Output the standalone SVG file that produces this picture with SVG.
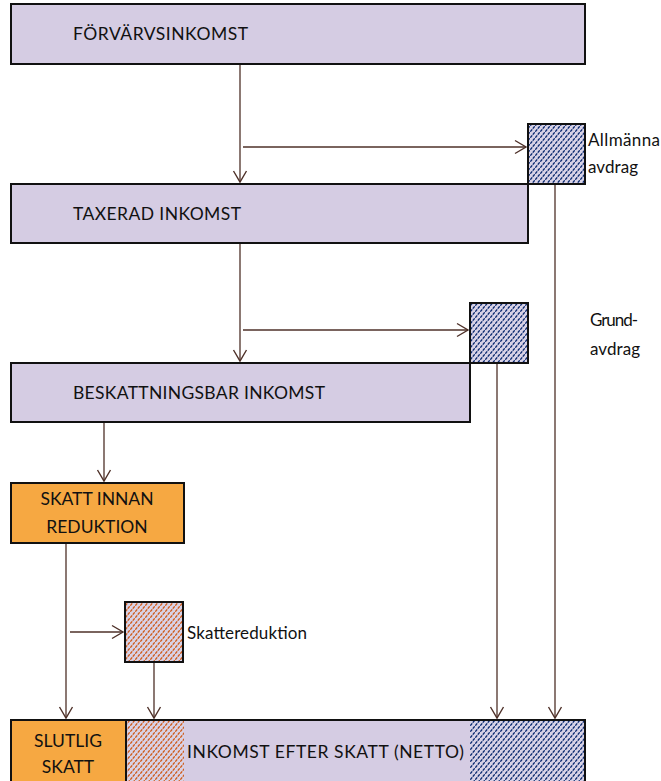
<svg xmlns="http://www.w3.org/2000/svg" width="661" height="781" viewBox="0 0 661 781">
<defs>
<pattern id="hb" width="5" height="6" patternUnits="userSpaceOnUse">
<rect width="5" height="6" fill="#d8d2e6"/>
<path d="M0.3,5.64 L2.2,3.36 M2.8,2.64 L4.7,0.36" stroke="#08286e" stroke-width="1.4" fill="none"/>
</pattern>
<pattern id="ho" width="5" height="6" patternUnits="userSpaceOnUse">
<rect width="5" height="6" fill="#d8d2e6"/>
<path d="M0.3,5.64 L2.2,3.36 M2.8,2.64 L4.7,0.36" stroke="#cf5a18" stroke-width="1.4" fill="none"/>
</pattern>
<marker id="ar" markerWidth="16" markerHeight="16" refX="12" refY="8" orient="auto" markerUnits="userSpaceOnUse">
<path d="M1,1.5 L12,8 L1,14.5" fill="none" stroke="#4e3028" stroke-width="1.4"/>
</marker>
</defs>
<style>
.box{fill:#d5cce3;stroke:#111;stroke-width:2}
.org{fill:#f6a842;stroke:#111;stroke-width:2}
.hb{fill:url(#hb);stroke:#111;stroke-width:2}
.ho{fill:url(#ho);stroke:#111;stroke-width:2}
.t{font-family:Lato,"Open Sans",sans-serif;font-size:17.5px;fill:#111}
.s{font-family:Lato,"Open Sans",sans-serif;font-size:17px;fill:#111}
.c{fill:none;stroke:#4e3028;stroke-width:1.3;marker-end:url(#ar)}
</style>
<g id="connectors">
<line class="c" x1="240" y1="64" x2="240" y2="182"/>
<line class="c" x1="243" y1="147" x2="526" y2="147"/>
<line class="c" x1="240" y1="243" x2="240" y2="361"/>
<line class="c" x1="243" y1="330" x2="468" y2="330"/>
<line class="c" x1="104" y1="422" x2="104" y2="481"/>
<line class="c" x1="66" y1="543" x2="66" y2="718"/>
<line class="c" x1="70" y1="632" x2="123" y2="632"/>
<line class="c" x1="154" y1="662" x2="154" y2="718"/>
<line class="c" x1="497" y1="363" x2="497" y2="718"/>
<line class="c" x1="555" y1="184" x2="555" y2="718"/>
</g>
<g id="forvarvsinkomst">
<rect class="box" x="11" y="4" width="574" height="60"/>
<text class="t" x="73" y="40" textLength="175">FÖRVÄRVSINKOMST</text>
</g>
<g id="allmanna-avdrag">
<rect class="hb" x="528" y="124" width="57" height="60"/>
<text class="s" x="588" y="146" textLength="72">Allmänna</text>
<text class="s" x="588" y="173" textLength="50">avdrag</text>
</g>
<g id="taxerad-inkomst">
<rect class="box" x="11" y="184" width="517" height="59"/>
<text class="t" x="73" y="220" textLength="168">TAXERAD INKOMST</text>
</g>
<g id="grundavdrag">
<rect class="hb" x="470" y="303" width="58" height="60"/>
<text class="s" x="590" y="326" textLength="48">Grund-</text>
<text class="s" x="590" y="355" textLength="50">avdrag</text>
</g>
<g id="beskattningsbar-inkomst">
<rect class="box" x="11" y="363" width="459" height="59"/>
<text class="t" x="73" y="399" textLength="252">BESKATTNINGSBAR INKOMST</text>
</g>
<g id="skatt-innan-reduktion">
<rect class="org" x="11" y="483" width="173" height="60"/>
<text class="t" x="97" y="505" text-anchor="middle">SKATT INNAN</text>
<text class="t" x="97" y="533" text-anchor="middle">REDUKTION</text>
</g>
<g id="skattereduktion">
<rect class="ho" x="125" y="602" width="58" height="60"/>
<text class="s" x="187" y="639" textLength="120">Skattereduktion</text>
</g>
<g id="resultat">
<rect class="box" x="11" y="720" width="574" height="64"/>
<rect x="126" y="721" width="58" height="62" fill="url(#ho)"/>
<rect x="470" y="721" width="114" height="62" fill="url(#hb)"/>
<rect class="org" x="11" y="720" width="115" height="64"/>
<text class="t" x="68" y="747" text-anchor="middle">SLUTLIG</text>
<text class="t" x="68" y="773" text-anchor="middle">SKATT</text>
<text class="t" x="187" y="758" textLength="277">INKOMST EFTER SKATT (NETTO)</text>
</g>
</svg>
